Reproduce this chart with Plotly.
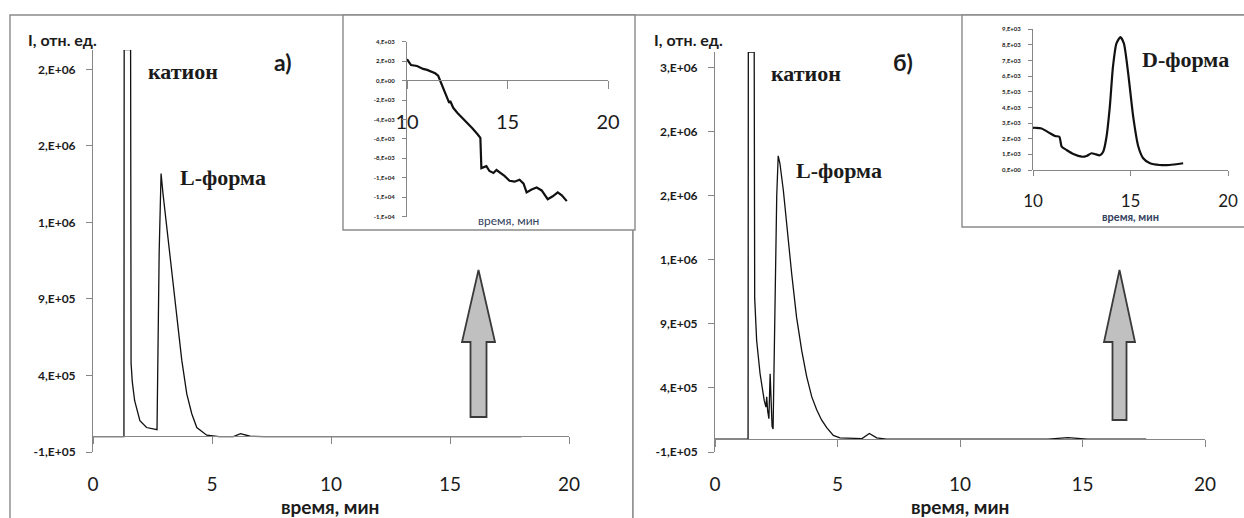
import plotly.graph_objects as go

W, H = 1244, 518

# ---------------- data ----------------
# panel a) main electropherogram
a_time = [0.0, 1.30, 1.31, 1.58, 1.60, 1.65, 1.75, 1.97, 2.25, 2.69, 2.78, 2.86, 2.94, 3.10,
          3.30, 3.52, 3.73, 3.94, 4.15, 4.36, 4.78, 5.3, 5.9, 6.2, 6.6, 7.2, 18.0]
a_int = [0, 0, 2.53e6, 2.53e6, 4.8e5, 3.6e5, 2.35e5, 1.05e5, 6.0e4, 4.6e4, 1.2e6, 1.72e6, 1.59e6, 1.37e6,
         1.07e6, 7.6e5, 5.0e5, 2.8e5, 1.5e5, 6.0e4, 1.0e4, 0, 0, 2.0e4, 3.0e3, 0, 0]

# panel б) main electropherogram
b_time = [0.0, 1.35, 1.36, 1.60, 1.62, 1.70, 1.84, 1.95, 2.01, 2.08, 2.11, 2.15, 2.20, 2.25, 2.29,
          2.33, 2.37, 2.45, 2.52, 2.58, 2.65, 2.79, 2.93, 3.13, 3.33, 3.54, 3.74, 3.95, 4.15, 4.35,
          4.56, 4.83, 5.1, 5.7, 6.0, 6.3, 6.6, 7.0, 13.6, 14.4, 15.2, 17.6]
b_int = [0, 0, 3.02e6, 3.02e6, 1.1e6, 7.7e5, 5.1e5, 3.6e5, 3.0e5, 2.5e5, 3.3e5, 2.2e5, 1.6e5, 5.1e5, 2.0e5,
         1.0e5, 8.0e4, 1.0e6, 1.9e6, 2.21e6, 2.15e6, 1.94e6, 1.65e6, 1.29e6, 9.5e5, 6.9e5, 4.9e5, 3.3e5, 2.3e5, 1.5e5,
         9.0e4, 3.0e4, 1.0e4, 3.0e3, 5.0e3, 4.5e4, 1.0e4, 0, 0, 1.2e4, 0, 0]

# inset a)
ia_time = [10.0, 10.2, 10.5, 10.8, 11.0, 11.2, 11.4, 11.55, 11.65, 11.8, 12.0, 12.1, 12.15, 12.3, 12.5,
           12.75, 13.0, 13.25, 13.5, 13.65, 13.7, 13.8, 13.95, 14.1, 14.3, 14.45, 14.6, 14.85, 15.1,
           15.35, 15.6, 15.8, 15.95, 16.2, 16.45, 16.7, 17.0, 17.25, 17.5, 17.7, 17.95]
ia_int = [2.2e3, 1.6e3, 1.5e3, 1.2e3, 1.1e3, 0.9e3, 0.75e3, 0.5e3, 0.0, -0.8e3, -1.7e3, -2.3e3, -2.1e3, -2.8e3, -3.3e3,
          -3.8e3, -4.3e3, -4.9e3, -5.5e3, -5.9e3, -9.0e3, -8.9e3, -8.8e3, -9.3e3, -9.5e3, -9.2e3, -9.4e3, -9.8e3, -10.3e3,
          -10.4e3, -10.2e3, -10.6e3, -11.5e3, -11.2e3, -11.0e3, -11.3e3, -12.2e3, -11.9e3, -11.5e3, -11.8e3, -12.4e3]

# inset б)
ib_time = [10.0, 10.15, 10.44, 10.87, 11.13, 11.35, 11.47, 11.72, 12.07, 12.5, 12.75, 13.0, 13.17, 13.43,
           13.6, 13.77, 13.94, 14.1, 14.28, 14.48, 14.66, 14.88, 15.14, 15.4, 15.65, 16.0, 16.5, 17.0, 17.7]
ib_int = [2.7e3, 2.7e3, 2.65e3, 2.35e3, 2.17e3, 2.13e3, 1.5e3, 1.28e3, 1.02e3, 0.85e3, 0.9e3, 1.07e3, 1.02e3, 0.94e3,
          1.17e3, 2.13e3, 4.05e3, 6.6e3, 8.1e3, 8.5e3, 8.1e3, 6.2e3, 3.4e3, 1.5e3, 0.75e3, 0.43e3, 0.32e3, 0.32e3, 0.43e3]

# ticks
main_xticks = [0, 5, 10, 15, 20]
inset_xticks = [10, 15, 20]
a_yticks = [-1e5, 4e5, 9e5, 1.4e6, 1.9e6, 2.4e6]
a_ylabels = ["-1,E+05", "4,E+05", "9,E+05", "1,E+06", "2,E+06", "2,E+06"]
b_yticks = [-1e5, 4e5, 9e5, 1.4e6, 1.9e6, 2.4e6, 2.9e6]
b_ylabels = ["-1,E+05", "4,E+05", "9,E+05", "1,E+06", "2,E+06", "2,E+06", "3,E+06"]
ia_yticks = [4e3, 2e3, 0, -2e3, -4e3, -6e3, -8e3, -10e3, -12e3, -14e3]
ia_ylabels = ["4,E+03", "2,E+03", "0,E+00", "-2,E+03", "-4,E+03", "-6,E+03", "-8,E+03", "-1,E+04", "-1,E+04", "-1,E+04"]
ib_yticks = [0, 1e3, 2e3, 3e3, 4e3, 5e3, 6e3, 7e3, 8e3, 9e3]
ib_ylabels = ["0,E+00", "1,E+03", "2,E+03", "3,E+03", "4,E+03", "5,E+03", "6,E+03", "7,E+03", "8,E+03", "9,E+03"]


def fx(p):
    return p / W


def fy(p):
    return 1 - p / H


SANS = "Lato"
SERIF = "Liberation Serif"
TXT = "#1b1b1b"
AX = "#868686"

fig = go.Figure()
fig.add_trace(go.Scatter(x=a_time, y=a_int, mode="lines", line=dict(color="#111", width=1.3),
                         xaxis="x", yaxis="y", showlegend=False))
fig.add_trace(go.Scatter(x=b_time, y=b_int, mode="lines", line=dict(color="#111", width=1.3),
                         xaxis="x2", yaxis="y2", showlegend=False))
fig.add_trace(go.Scatter(x=ia_time, y=ia_int, mode="lines", line=dict(color="#111", width=2.2),
                         xaxis="x3", yaxis="y3", showlegend=False))
fig.add_trace(go.Scatter(x=ib_time, y=ib_int, mode="lines", line=dict(color="#111", width=2.2, shape="spline", smoothing=0.6),
                         xaxis="x4", yaxis="y4", showlegend=False))


def xax(dom, pos, rng, ticks, size, standoff, ticklen):
    return dict(domain=[fx(dom[0]), fx(dom[1])], range=rng, anchor="free", position=fy(pos),
                showline=True, linecolor=AX, linewidth=1, ticks="outside", ticklen=ticklen, tickcolor=AX,
                tickvals=ticks, tickfont=dict(family=SANS, size=size, color=TXT),
                ticklabelstandoff=standoff, showgrid=False, zeroline=False, automargin=False)


def yax(anchor, dom, rng, ticks, labels, size, standoff, ticklen):
    return dict(domain=[fy(dom[0]), fy(dom[1])], range=rng, anchor=anchor,
                showline=True, linecolor=AX, linewidth=1, ticks="outside", ticklen=ticklen, tickcolor=AX,
                tickvals=ticks, ticktext=labels,
                tickfont=dict(family=SANS, size=size, color=TXT, weight="bold"),
                ticklabelstandoff=standoff, showgrid=False, zeroline=False, automargin=False)


fig.update_layout(
    width=W, height=H, margin=dict(l=0, r=0, t=0, b=0, autoexpand=False),
    paper_bgcolor="white", plot_bgcolor="rgba(0,0,0,0)",
    xaxis=xax((93, 569), 436, [0, 20], main_xticks, 19, 24, 7),
    yaxis=yax("x", (452, 50), [-1e5, 2.527e6], a_yticks, a_ylabels, 12, 8, 6),
    xaxis2=xax((715, 1205), 439, [0, 20], main_xticks, 19, 21, 7),
    yaxis2=yax("x2", (452, 52), [-1e5, 3.02e6], b_yticks, b_ylabels, 12, 8, 6),
    xaxis3=xax((407, 608), 80, [10, 20], inset_xticks, 20, 16, 8),
    yaxis3=yax("x3", (216.7, 41.7), [-14e3, 4e3], ia_yticks, ia_ylabels, 6, 6, 4),
    xaxis4=xax((1033, 1228), 170, [10, 20], inset_xticks, 17, 11, 5),
    yaxis4=yax("x4", (170, 29.3), [0, 9e3], ib_yticks, ib_ylabels, 6, 6, 4),
)

# panel frames and inset frames
BORDER = "#8a8a8a"
frames = [(10, 15, 633, 530), (633, 15, 1260, 530), (343, 15, 635, 230), (962, 15, 1260, 227)]
for x0, y0, x1, y1 in frames:
    fig.add_shape(type="rect", xref="paper", yref="paper", x0=fx(x0), x1=fx(x1), y0=fy(y1), y1=fy(y0),
                  line=dict(color=BORDER, width=1.4), fillcolor="white", layer="below")


# block arrows
def arrow(tipx, tipy, headw, headb, shaftw, bottom):
    pts = [(tipx, tipy), (tipx + headw / 2, headb), (tipx + shaftw / 2, headb), (tipx + shaftw / 2, bottom),
           (tipx - shaftw / 2, bottom), (tipx - shaftw / 2, headb), (tipx - headw / 2, headb)]
    path = "M " + " L ".join(f"{fx(px):.5f},{fy(py):.5f}" for px, py in pts) + " Z"
    fig.add_shape(type="path", xref="paper", yref="paper", path=path,
                  line=dict(color="#3a3a3a", width=1.8), fillcolor="#c0c0c0")


arrow(478.5, 270, 33, 342, 16, 417)
arrow(1119.5, 270, 31, 342, 14, 420)


def txt(x, y, s, size, family=SANS, bold=True, anchor="center", color=TXT):
    fig.add_annotation(xref="paper", yref="paper", x=fx(x), y=fy(y), text=s, showarrow=False,
                       xanchor=anchor, yanchor="middle",
                       font=dict(family=family, size=size, color=color, weight="bold" if bold else "normal"))


txt(330, 506, "время, мин", 19)
txt(960, 506, "время, мин", 19)
txt(26, 40, "I, отн. ед.", 16, anchor="left")
txt(652, 40, "I, отн. ед.", 16, anchor="left")
txt(146, 72, "катион", 22, SERIF, anchor="left")
txt(769, 73, "катион", 22, SERIF, anchor="left")
txt(178, 177, "L-форма", 22, SERIF, anchor="left")
txt(794, 170, "L-форма", 22, SERIF, anchor="left")
txt(283, 62, "а)", 23)
txt(903, 62, "б)", 23)
txt(1140, 60, "D-форма", 22, SERIF, anchor="left")
txt(508, 221, "время, мин", 12, bold=False, color="#33415e")
txt(1130, 216, "время, мин", 11, color="#33415e")

fig.write_html("out.html")
